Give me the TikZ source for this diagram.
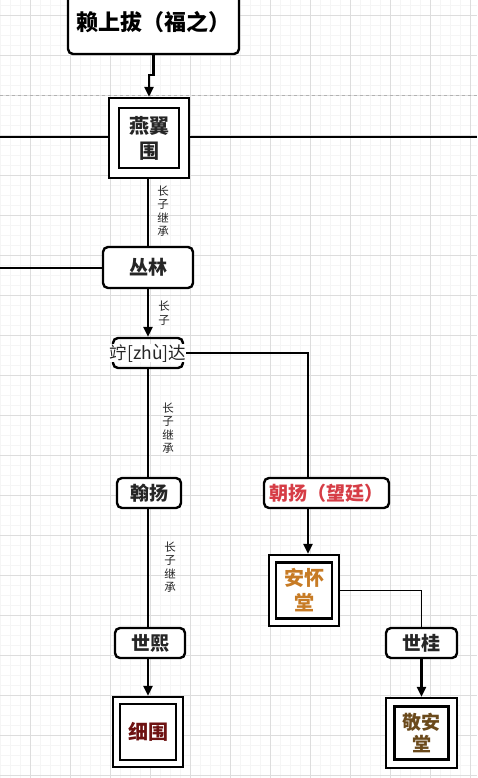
\documentclass[tikz,border=0pt]{standalone}
\usepackage{fontspec}
\setmainfont{Noto Sans CJK SC}
\newfontfamily\cjk{Noto Sans CJK SC}
\usetikzlibrary{arrows.meta,calc}
\definecolor{txt}{HTML}{262626}
\definecolor{redt}{HTML}{D63D46}
\definecolor{oranget}{HTML}{C77B25}
\definecolor{darkred}{HTML}{6E1212}
\definecolor{brownt}{HTML}{6B4A1C}
\definecolor{gridmaj}{HTML}{DDDDDD}
\definecolor{gridmin}{HTML}{F5F5F5}
\tikzset{
  rbox/.style={draw=black, line width=2.4pt, rounded corners=5pt, fill=white, text=txt, inner sep=0pt, font=\cjk\bfseries\fontsize{19}{22}\selectfont},
  dbox/.style={draw=black, line width=2.4pt, fill=white, inner sep=0pt},
  ibox/.style={draw=black, line width=2.4pt, fill=white, inner sep=0pt, align=center, font=\cjk\bfseries\fontsize{20}{25}\selectfont},
  conn/.style={line width=2.4pt, black},
  arr/.style={line width=2.4pt, black, -{Triangle[length=10pt,width=9pt]}},
  lbl/.style={font=\cjk\fontsize{11.5}{13.5}\selectfont, text=txt, align=center, inner sep=0pt}
}
\begin{document}
\begin{tikzpicture}[x=1pt,y=-1pt]
\useasboundingbox (0,0) rectangle (477,778);
\clip (0,0) rectangle (477,778);
\fill[white] (0,0) rectangle (477,778);
% grid
\foreach \i in {0,...,48} {\draw[gridmin, line width=0.5pt] ({\i*10},0) -- ({\i*10},778);}
\foreach \i in {0,...,78} {\draw[gridmin, line width=0.5pt] (0,{5+\i*10}) -- (477,{5+\i*10});}
\foreach \i in {0,...,11} {\draw[gridmaj, line width=0.9pt] ({30+\i*40},0) -- ({30+\i*40},778);}
\foreach \i in {0,...,19} {\draw[gridmaj, line width=0.9pt] (0,{15+\i*40}) -- (477,{15+\i*40});}
\draw[gray!60, dashed, line width=0.8pt] (0,95) -- (477,95);

% nodes
\node[rbox, minimum width=171pt, minimum height=64pt, text=black, font=\cjk\bfseries\fontsize{22}{24}\selectfont] (t) at (153.5,22) {赖上拔（福之）};

\node[dbox, minimum width=80pt, minimum height=80pt] (yy) at (149,138) {};
\node[ibox, minimum width=60pt, minimum height=60pt, text=txt] (yyi) at (149,138) {燕翼\\围};

\node[rbox, minimum width=90pt, minimum height=41pt] (cl) at (148,267.5) {丛林};

\node[draw=black, line width=2.4pt, rounded corners=5pt, minimum width=70pt, minimum height=30pt, inner sep=0pt] (zd) at (148,353) {};
\node[fill=white, inner sep=0pt, text=txt, font=\cjk\fontsize{17.5}{20}\selectfont] (zdt) at (148,353) {竚[zhù]达};

\node[rbox, minimum width=64pt, minimum height=30pt] (hy) at (149,493) {翰扬};
\node[rbox, minimum width=125pt, minimum height=30pt, text=redt] (cy) at (326.5,493) {朝扬（望廷）};
\node[rbox, minimum width=70pt, minimum height=30pt] (sx) at (150,643) {世熙};
\node[rbox, minimum width=71pt, minimum height=30pt] (sg) at (421.5,643) {世桂};

\node[dbox, minimum width=70pt, minimum height=70pt] (xw) at (148,732) {};
\node[ibox, minimum width=56pt, minimum height=56pt, text=darkred] (xwi) at (148,732) {细围};

\node[dbox, minimum width=70pt, minimum height=71pt] (ah) at (304,590.5) {};
\node[ibox, minimum width=56pt, minimum height=56pt, text=oranget] (ahi) at (304,590.5) {安怀\\堂};

\node[dbox, minimum width=71pt, minimum height=70pt] (ja) at (421.5,733) {};
\node[ibox, minimum width=54pt, minimum height=53pt, text=brownt, font=\cjk\bfseries\fontsize{19}{22}\selectfont] (jai) at (421.5,733) {敬安\\堂};

% side lines
\coordinate (L1) at (0,137);
\coordinate (R1) at (477,137);
\coordinate (L2) at (0,268);
\draw[conn] (L1) -- (L1 -| yy.west);
\draw[conn] (yy.east |- R1) -- (R1);
\draw[conn] (L2) -- (L2 -| cl.west);

% connectors
\draw[arr] (t.south) -- ++(0,20) -| (yy.north);
\draw[conn] (cl.north |- yy.south) -- (cl.north);
\node[lbl] (l1) at (163,211) {长\\子\\继\\承};
\draw[arr] (cl.south) -- (zd.north);
\node[lbl] (l2) at (164,313) {长\\子};
\coordinate (cyt) at ($(cy.north)+(-18.5,0)$);
\coordinate (cyb) at ($(cy.south)+(-18.5,0)$);
\draw[conn] (zdt.east) -| (cyt);
\draw[conn] (zd.south) -- (hy.north -| zd.south);
\node[lbl] (l3) at (168,428) {长\\子\\继\\承};
\draw[arr] (cyb) -- (cyb |- ah.north);
\draw[conn] (hy.south -| xw.north) -- (sx.north -| xw.north);
\node[lbl] (l4) at (170,567) {长\\子\\继\\承};
\draw[arr] (sx.south -| xw.north) -- (xw.north);
\draw[black, line width=1.8pt] (ah.east) -| (sg.north);
\draw[arr] (sg.south) -- (ja.north);
\end{tikzpicture}
\end{document}
